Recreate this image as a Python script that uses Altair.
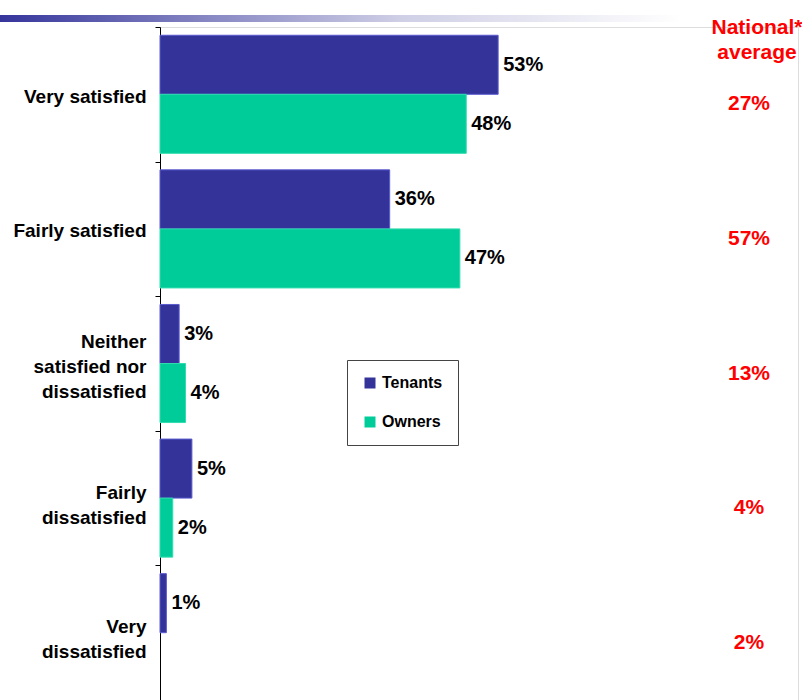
import altair as alt
import pandas as pd

NB = "\u00a0"

categories = ["Very satisfied", "Fairly satisfied",
              "Neither satisfied nor dissatisfied",
              "Fairly dissatisfied", "Very dissatisfied"]
axis_labels = ["Very satisfied", "Fairly satisfied",
               "Neither" + NB * 4 + "\nsatisfied nor\ndissatisfied" + NB,
               "Fairly" + NB * 5 + "\ndissatisfied",
               "Very" + NB * 6 + "\ndissatisfied"]
groups = ["Tenants", "Owners"]
tenants = [53, 36, 3, 5, 1]
owners = [48, 47, 4, 2, 0]
national = [27, 57, 13, 4, 2]
colors = ["#333399", "#00CC99"]
edge_colors = ["#5a5ad0", "#30dcae"]

FONT = "Liberation Sans"
LINE_H = 25

rows = []
for c, t, o in zip(categories, tenants, owners):
    rows.append({"cat": c, "group": "Tenants", "value": t, "label": f"{t}%"})
    rows.append({"cat": c, "group": "Owners", "value": o, "label": f"{o}%"})
df = pd.DataFrame(rows)
df = df[df["value"] > 0]

nat_df = pd.DataFrame({"cat": categories, "nat": [f"{v}%" for v in national]})

label_map = "{" + ", ".join(
    f"{repr(c)}: {repr(l)}" for c, l in zip(categories, axis_labels)
) + "}"
label_expr = (f"isValid({label_map}[datum.value]) ? "
              f"split({label_map}[datum.value], '\\n') : ''")

three_line = [c for c, l in zip(categories, axis_labels) if l.count("\n") == 2]
two_line = [c for c, l in zip(categories, axis_labels) if l.count("\n") == 1]


def in_list(names):
    return " || ".join(f"datum.value == {repr(n)}" for n in names)


label_offset = {
    "condition": [
        {"test": in_list(three_line), "value": -22},
        {"test": in_list(two_line), "value": -6},
    ],
    "value": 2,
}

y_enc = alt.Y(
    "cat:N",
    sort=categories,
    scale=alt.Scale(domain=categories, paddingInner=0, paddingOuter=0),
    axis=alt.Axis(
        title=None,
        labelExpr=label_expr,
        labelFont=FONT, labelFontSize=19, labelFontWeight="bold",
        labelColor="black", labelAlign="right", labelBaseline="middle",
        labelLineHeight=LINE_H, labelPadding=9, labelLimit=300,
        labelOffset=label_offset,
        tickSize=5, tickColor="black", tickBand="extent",
        domainColor="black", domainWidth=1, grid=False,
    ),
)
x_scale = alt.Scale(domain=[0, 100], nice=False)
yoff = alt.YOffset("group:N", sort=groups,
                   scale=alt.Scale(domain=groups, paddingOuter=0.14, paddingInner=0))

base = alt.Chart(df)

bars = base.mark_bar(strokeWidth=1).encode(
    y=y_enc,
    yOffset=yoff,
    x=alt.X("value:Q", scale=x_scale, axis=None),
    color=alt.Color(
        "group:N", sort=groups,
        scale=alt.Scale(domain=groups, range=colors),
        legend=alt.Legend(
            title=None, orient="none", legendX=187, legendY=333,
            symbolType="square", symbolSize=121, symbolStrokeWidth=0,
            labelFont=FONT, labelFontSize=16, labelFontWeight="bold",
            labelColor="black", labelOffset=4, rowPadding=23,
            padding=15, strokeColor="#444444",
            fillColor="white", cornerRadius=0,
        ),
    ),
    stroke=alt.Stroke("group:N", sort=groups,
                      scale=alt.Scale(domain=groups, range=edge_colors),
                      legend=None),
)

labels = base.mark_text(
    align="left", baseline="middle", dx=5,
    font=FONT, fontSize=20, fontWeight="bold", color="black",
).encode(
    y=alt.Y("cat:N", sort=categories),
    yOffset=yoff,
    x=alt.X("value:Q", scale=x_scale),
    text="label:N",
)

nat_text = alt.Chart(nat_df).mark_text(
    align="center", baseline="middle", dy=10,
    font=FONT, fontSize=21, fontWeight="bold", color="#FF0000",
).encode(
    y=alt.Y("cat:N", sort=categories),
    x=alt.value(589),
    text="nat:N",
)

header = alt.Chart(pd.DataFrame({"h": [["National*", "average"]]})).mark_text(
    align="center", baseline="alphabetic", lineHeight=25,
    font=FONT, fontSize=21, fontWeight="bold", color="#FF0000",
).encode(
    x=alt.value(597),
    y=alt.value(7),
    text="h",
)

band = alt.Chart(pd.DataFrame({"a": [0]})).mark_rect(
    color=alt.Gradient(
        gradient="linear", x1=0, x2=1, y1=0, y2=0,
        stops=[
            alt.GradientStop(offset=0, color="#35359c"),
            alt.GradientStop(offset=0.25, color="#8484c2"),
            alt.GradientStop(offset=0.5, color="#cfcfe6"),
            alt.GradientStop(offset=0.85, color="#ffffff"),
            alt.GradientStop(offset=1, color="#ffffff"),
        ],
    )
).encode(
    x=alt.value(-160), x2=alt.value(642),
    y=alt.value(-12), y2=alt.value(-5),
)

chart = alt.layer(band, bars, labels, nat_text, header).properties(
    width=638, height=673,
    autosize=alt.AutoSizeParams(type="none"),
    padding={"left": 160, "top": 27, "right": 4, "bottom": 0},
).configure_view(stroke=None).configure(background="white")

chart.save("out.html", embed_options={"renderer": "svg", "actions": False})
